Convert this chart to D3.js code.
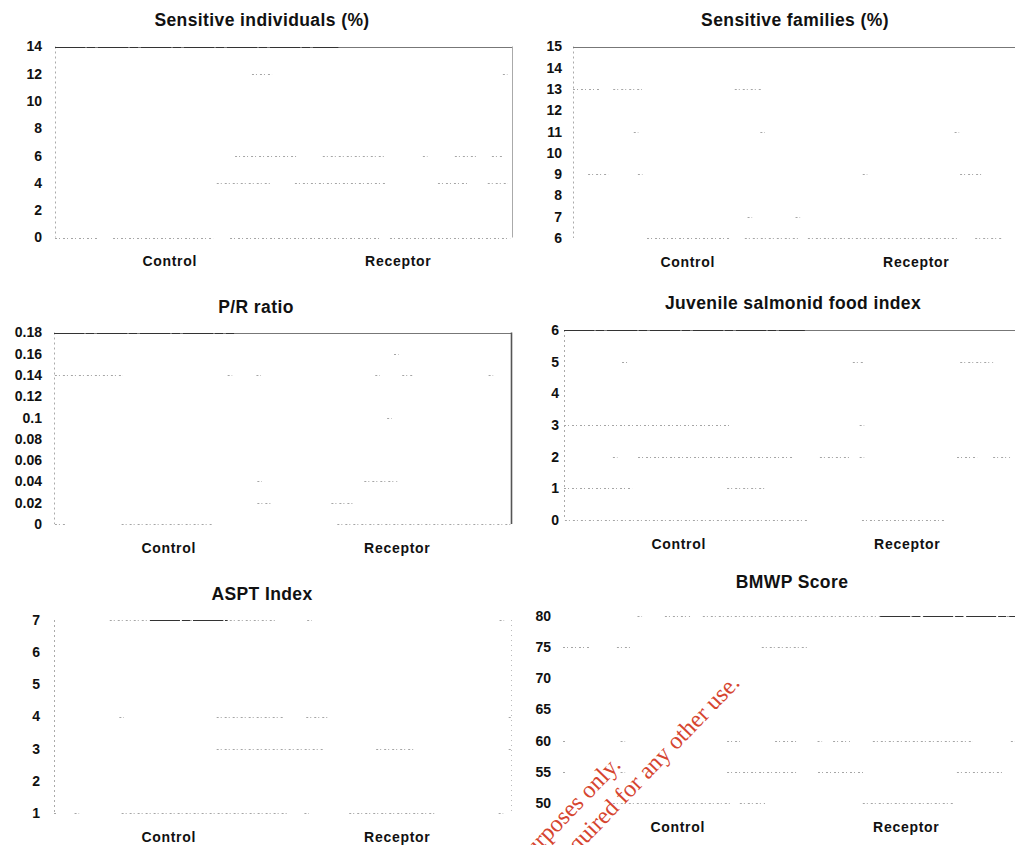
<!DOCTYPE html>
<html>
<head>
<meta charset="utf-8">
<script src="https://cdn.jsdelivr.net/npm/d3@7/dist/d3.min.js"></script>
<style>
body { margin: 0; background: #fff; }
text { font-family: "Liberation Sans", Arial, sans-serif; font-weight: bold; fill: #111; }
</style>
</head>
<body>
<div id="chart"></div>
<script>
// categories on the x axis of every panel
var categories = ["Control", "Receptor"];

var titles = ["Sensitive individuals (%)", "Sensitive families (%)", "P/R ratio",
              "Juvenile salmonid food index", "ASPT Index", "BMWP Score"];

// y tick labels of each panel
var ticksSensInd = [0, 2, 4, 6, 8, 10, 12, 14];
var ticksSensFam = [6, 7, 8, 9, 10, 11, 12, 13, 14, 15];
var ticksPR = [0, 0.02, 0.04, 0.06, 0.08, 0.1, 0.12, 0.14, 0.16, 0.18];
var ticksFood = [0, 1, 2, 3, 4, 5, 6];
var ticksASPT = [1, 2, 3, 4, 5, 6, 7];
var ticksBMWP = [50, 55, 60, 65, 70, 75, 80];

// faint line fragments: [value, from, to] (from/to = position along the x axis, 0-100)
var segSensInd = [
  [12, 43.1, 47.5], [12, 98, 99],
  [6, 39.4, 53.2], [6, 58.6, 72.6], [6, 80.5, 81.5], [6, 87.5, 92.3], [6, 95.6, 97.8],
  [4, 35.4, 47.5], [4, 52.5, 72.6], [4, 83.8, 90.8], [4, 94.7, 99.1],
  [0, 0, 9.2], [0, 12.7, 34.6], [0, 38.3, 71.1], [0, 73.3, 99.6]
];
var segSensFam = [
  [13, 0, 5.9], [13, 8.8, 15.1], [13, 35.4, 41.4],
  [11, 13.3, 14.3], [11, 41, 42], [11, 83.5, 84.5],
  [9, 3.3, 7.7], [9, 14.2, 15.2], [9, 63.4, 64.4], [9, 84.7, 89.5],
  [7, 38.2, 39.2], [7, 48.7, 49.7],
  [6, 16.2, 34.4], [6, 37.6, 49.7], [6, 51.4, 84], [6, 88, 94.1]
];
var segPR = [
  [0.16, 74.4, 75.4],
  [0.14, 0.2, 15.1], [0.14, 38, 39], [0.14, 44.3, 45.3], [0.14, 70.3, 71.3], [0.14, 76.2, 78.8], [0.14, 95.1, 96.1],
  [0.1, 72.9, 73.9],
  [0.04, 44.5, 45.5], [0.04, 67.9, 75.1],
  [0.02, 44.5, 47.8], [0.02, 60.7, 65.3],
  [0, 0.2, 2.8], [0, 14.8, 34.7], [0, 62, 100]
];
var segFood = [
  [5, 12.7, 13.8], [5, 63.2, 65.4], [5, 86.7, 93.9],
  [3, 0, 36.3], [3, 64.7, 65.7],
  [2, 10.7, 11.7], [2, 16.2, 50.1], [2, 56, 62.6], [2, 64.7, 65.7], [2, 86, 90.4], [2, 93.9, 97.6],
  [1, 0, 14.9], [1, 35.7, 44],
  [0, 0.2, 53.4], [0, 65.2, 83.4]
];
var segASPT = [
  [7, 12.2, 48.9], [7, 55.4, 56.4], [7, 97.5, 98.5],
  [4, 14.3, 15.3], [4, 35.6, 50.4], [4, 55.2, 59.8], [4, 99.5, 100],
  [3, 35.6, 59.2], [3, 70.5, 78.8], [3, 99.5, 100],
  [1, 0, 0.5], [1, 4.5, 5.5], [1, 14.8, 51.5], [1, 54.8, 55.8], [1, 64.6, 83.6], [1, 97.3, 98.3]
];
var segBMWP = [
  [80, 16.3, 17.3], [80, 22.3, 27.8], [80, 30.6, 99],
  [75, 0, 5.9], [75, 11.8, 15.3], [75, 43.5, 53.4],
  [60, 0, 0.6], [60, 12.6, 13.6], [60, 35.9, 38.7], [60, 46.4, 51.4], [60, 55.7, 56.7],
  [60, 59.1, 62.8], [60, 67.8, 89.7], [60, 98, 99],
  [55, 0, 0.6], [55, 12.6, 13.6], [55, 35.9, 51.2], [55, 55.8, 66.1], [55, 86.2, 96.1],
  [50, 10.9, 36.5], [50, 38.7, 44.2], [50, 65.6, 85.3]
];

// darker fragments along the top of some panels
var strongSensInd = [[14, 0, 62]];
var strongPR = [[0.18, 0, 39.4]];
var strongFood = [[6, 0, 52.7]];
var strongASPT = [[7, 21, 38]];
var strongBMWP = [[80, 69.4, 99]];

function init() {
    var w = 1015;
    var h = 845;
    var pw = 457;

    var svg = d3.select("#chart")
                .append("svg")
                .attr("width", w)
                .attr("height", h);

    svg.append("rect").attr("width", w).attr("height", h).attr("fill", "#fff");

    // layout of the six panels
    var panels = [
        {ticks: ticksSensInd, segs: segSensInd, strong: strongSensInd, left: 55, top: 46.5, bottom: 237.5, pad: 13, titleX: 262, titleY: 20, frame: "box"},
        {ticks: ticksSensFam, segs: segSensFam, strong: [], left: 573, top: 46.5, bottom: 238, pad: 11, titleX: 795, titleY: 20, frame: "box"},
        {ticks: ticksPR, segs: segPR, strong: strongPR, left: 54, top: 332.5, bottom: 524, pad: 12, titleX: 256, titleY: 307, frame: "boxDark"},
        {ticks: ticksFood, segs: segFood, strong: strongFood, left: 564, top: 330, bottom: 520, pad: 5, titleX: 793, titleY: 303, frame: "box"},
        {ticks: ticksASPT, segs: segASPT, strong: strongASPT, left: 54, top: 620, bottom: 813, pad: 14, titleX: 262, titleY: 594, frame: "open"},
        {ticks: ticksBMWP, segs: segBMWP, strong: strongBMWP, left: 563, top: 616, bottom: 803, pad: 12, titleX: 792, titleY: 582, frame: "none"}
    ];

    panels.forEach(function(p, i) {
        var g = svg.append("g");

        var x = d3.scaleLinear().domain([0, 100]).range([p.left, p.left + pw]);
        var y = d3.scaleLinear()
                  .domain([p.ticks[0], p.ticks[p.ticks.length - 1]])
                  .range([p.bottom, p.top]);
        var xCat = d3.scalePoint().domain(categories).range([p.left, p.left + pw]).padding(0.5);

        // frame
        if (p.frame != "none") {
            g.append("line")
             .attr("x1", p.left + 0.5).attr("x2", p.left + 0.5)
             .attr("y1", p.top).attr("y2", p.bottom)
             .attr("stroke", "#aaa").attr("stroke-dasharray", "2,3");
        }
        if (p.frame == "box" || p.frame == "boxDark") {
            g.append("line")
             .attr("x1", p.left).attr("x2", p.left + pw)
             .attr("y1", Math.round(p.top) + 0.5).attr("y2", Math.round(p.top) + 0.5)
             .attr("stroke", "#777");
            g.append("line")
             .attr("x1", p.left + pw + 0.5).attr("x2", p.left + pw + 0.5)
             .attr("y1", p.top).attr("y2", p.bottom)
             .attr("stroke", p.frame == "boxDark" ? "#555" : "#aaa")
             .attr("stroke-width", p.frame == "boxDark" ? 1.6 : 1);
        }
        if (p.frame == "open") {
            g.append("line")
             .attr("x1", p.left + pw + 0.5).attr("x2", p.left + pw + 0.5)
             .attr("y1", p.top).attr("y2", p.bottom)
             .attr("stroke", "#bbb").attr("stroke-dasharray", "1,4");
        }

        // faint fragments
        g.selectAll(".seg")
         .data(p.segs)
         .enter()
         .append("line")
         .attr("class", "seg")
         .attr("x1", function(d) { return x(d[1]); })
         .attr("x2", function(d) { return x(d[2]); })
         .attr("y1", function(d) { return Math.round(y(d[0])) + 0.5; })
         .attr("y2", function(d) { return Math.round(y(d[0])) + 0.5; })
         .attr("stroke", "#a5a5a5")
         .attr("stroke-dasharray", "2,2,1,3");

        g.selectAll(".strong")
         .data(p.strong)
         .enter()
         .append("line")
         .attr("class", "strong")
         .attr("x1", function(d) { return x(d[1]); })
         .attr("x2", function(d) { return x(d[2]); })
         .attr("y1", function(d) { return Math.round(y(d[0])) + 0.5; })
         .attr("y2", function(d) { return Math.round(y(d[0])) + 0.5; })
         .attr("stroke", "#333")
         .attr("stroke-width", 1.2)
         .attr("stroke-dasharray", "30,2,8,3");

        // y axis labels
        var yAxis = g.append("g")
                     .attr("transform", "translate(" + p.left + ",0)")
                     .call(d3.axisLeft(y).tickValues(p.ticks).tickSize(0).tickPadding(p.pad)
                           .tickFormat(function(d) { return String(+d.toFixed(2)); }));
        yAxis.select(".domain").remove();
        yAxis.selectAll("text").style("font-size", "14px").attr("fill", "#111");

        // category labels
        var xAxis = g.append("g")
                     .attr("transform", "translate(0," + p.bottom + ")")
                     .call(d3.axisBottom(xCat).tickSize(0).tickPadding(19));
        xAxis.select(".domain").remove();
        xAxis.selectAll("text").style("font-size", "14px").style("letter-spacing", "0.7px").attr("fill", "#111");

        // title
        g.append("text")
         .text(titles[i])
         .attr("x", p.titleX)
         .attr("y", p.titleY + 6)
         .attr("text-anchor", "middle")
         .style("font-size", "17.5px")
         .style("letter-spacing", "0.4px");
    });

    // watermark (runs off the bottom edge, as in the source image)
    var wm = [["For review purposes only.", 622, 766], ["Permission required for any other use.", 741, 684]];
    svg.selectAll(".wm")
       .data(wm)
       .enter()
       .append("text")
       .attr("class", "wm")
       .text(function(d) { return d[0]; })
       .attr("transform", function(d) { return "translate(" + d[1] + "," + d[2] + ") rotate(-46)"; })
       .attr("text-anchor", "end")
       .style("font-family", "'Liberation Serif', 'DejaVu Serif', serif")
       .style("font-weight", "normal")
       .style("font-size", "24px")
       .style("fill", "#d6452f");
}
window.onload = init;
</script>
</body>
</html>
